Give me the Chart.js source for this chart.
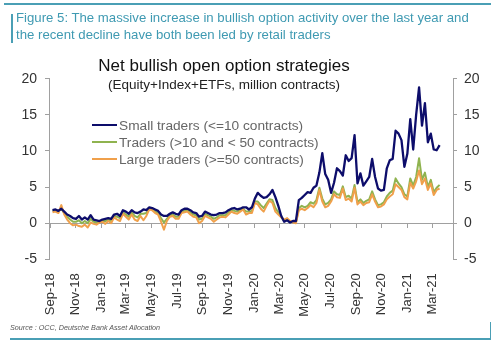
<!DOCTYPE html>
<html>
<head>
<meta charset="utf-8">
<script src="https://cdn.jsdelivr.net/npm/chart.js@4"></script>
<style>
  html, body { margin: 0; padding: 0; background: #fff; }
  #wrap { position: relative; width: 500px; height: 346px; overflow: hidden; font-family: "Liberation Sans", Arial, sans-serif; }
  #wrap canvas { position: absolute; left: 0; top: 0; }
  .txt { position: absolute; white-space: nowrap; }
  .rule { position: absolute; background: #4a9fb5; }
  #figTitle { left: 16px; top: 10px; font-size: 13.2px; line-height: 16.5px; color: #3f9ab2; }
  #title { left: 0; width: 448px; top: 56px; text-align: center; font-size: 17px; color: #111; }
  #subtitle { left: 0; width: 448px; top: 77px; text-align: center; font-size: 13.5px; color: #222; }
  .leg { left: 92px; font-size: 13.7px; color: #666; line-height: 16px; }
  .leg i { display: inline-block; width: 25px; height: 2px; vertical-align: middle; margin-right: 2px; position: relative; top: -1px; }
  #source { left: 10px; top: 323px; font-size: 7.2px; font-style: italic; color: #555; }
</style>
</head>
<body>
<div id="wrap">
  <canvas id="chart" width="500" height="346"></canvas>

  <div class="rule" style="left:4px; top:3px; width:487px; height:1.5px;"></div>
  <div class="rule" style="left:11px; top:14px; width:1.5px; height:29px;"></div>
  <div class="txt" id="figTitle">Figure 5: The massive increase in bullish option activity over the last year and<br>the recent decline have both been led by retail traders</div>

  <div class="txt" id="title">Net bullish open option strategies</div>
  <div class="txt" id="subtitle">(Equity+Index+ETFs, million contracts)</div>

  <div class="txt leg" style="top:118px;"><i style="background:#0d0d6b"></i>Small traders (&lt;=10 contracts)</div>
  <div class="txt leg" style="top:135px;"><i style="background:#8fb34f"></i>Traders (&gt;10 and &lt; 50 contracts)</div>
  <div class="txt leg" style="top:152px;"><i style="background:#f0a04b"></i>Large traders (&gt;=50 contracts)</div>

  <div class="txt" id="source">Source : OCC, Deutsche Bank Asset Allocation</div>
  <div class="rule" style="left:10px; top:338px; width:481px; height:1.5px;"></div>
  <div class="rule" style="left:489.5px; top:322px; width:1.5px; height:17px;"></div>
</div>

<script>
/* ── Data: weekly readings, first week ending 2018-09-07 ──────── */
const firstWeek = Date.UTC(2018, 8, 7);
const axisStart = Date.UTC(2018, 8, 1);

const smallTraders = [
  1.8, 1.9, 1.7, 2.0, 1.6, 1.2, 1.0, 0.7, 0.6, 1.0,
  0.5, 0.8, 0.5, 1.1, 0.5, 0.4, 0.3, 0.5, 0.6, 0.7,
  0.6, 1.2, 1.3, 1.0, 1.8, 1.6, 1.3, 1.8, 1.5, 1.4,
  1.6, 1.9, 1.8, 2.2, 2.1, 1.9, 1.7, 1.2, 1.0, 1.0,
  1.3, 1.5, 1.3, 1.2, 1.8, 2.0, 2.0, 1.8, 1.5, 1.4,
  0.9, 1.0, 1.6, 1.4, 1.2, 1.1, 1.2, 1.4, 1.4, 1.5,
  1.8, 2.0, 2.1, 1.9, 2.0, 2.2, 2.2, 1.9, 2.2, 3.4,
  4.2, 3.8, 3.5, 3.6, 4.0, 4.6, 3.6, 2.4, 1.0, 0.2,
  0.4, 0.1, 0.3, 0.3, 3.2, 3.5, 3.9, 4.3, 4.2, 4.9,
  5.2, 7.0, 9.7, 6.8, 6.0, 4.2, 5.6, 7.6, 7.2, 6.6,
  9.4, 8.6, 9.0, 12.2, 5.5, 6.9, 5.2, 5.8, 6.4, 8.9,
  6.4, 4.8, 4.5, 4.6, 7.6, 8.7, 8.9, 12.8, 12.4, 11.5,
  7.8, 9.6, 14.4, 10.2, 15.0, 18.8, 13.5, 16.6, 11.2, 12.4,
  10.2, 10.1, 10.8
];

const midTraders = [
  1.7, 1.8, 1.6, 2.0, 1.4, 0.9, 0.5, 0.2, 0.2, 0.4,
  0.0, 0.3, 0.0, 0.6, 0.2, 0.1, 0.1, 0.3, 0.3, 0.5,
  0.3, 1.0, 0.9, 0.7, 1.5, 1.2, 0.9, 1.5, 1.0, 0.8,
  1.3, 1.3, 1.4, 2.0, 1.9, 1.6, 1.4, 0.7, 0.1, 0.6,
  1.1, 1.2, 0.9, 0.9, 1.6, 1.7, 1.8, 1.5, 1.2, 1.1,
  0.5, 0.6, 1.3, 1.1, 0.9, 0.6, 0.8, 1.1, 1.1, 1.1,
  1.5, 1.8, 1.7, 1.6, 1.8, 2.0, 1.6, 1.6, 1.7, 3.0,
  3.0, 2.5, 2.1, 2.7, 3.3, 3.2, 2.1, 1.5, 0.9, 0.3,
  0.6, 0.2, 0.2, 0.1, 2.1, 2.4, 2.2, 2.4, 2.9, 2.7,
  3.2, 4.9, 3.4, 2.6, 2.8, 3.3, 4.4, 4.0, 3.9, 5.1,
  3.6, 3.8, 3.4, 5.3, 2.9, 3.3, 2.8, 3.1, 3.3, 4.4,
  3.3, 2.5, 2.6, 2.9, 3.7, 4.2, 4.5, 6.2, 5.5, 5.0,
  4.0, 3.7, 6.2, 5.2, 6.4, 9.0, 6.0, 7.0, 5.0, 6.0,
  4.3, 4.9, 5.3
];

const largeTraders = [
  1.5, 1.6, 1.4, 2.5, 1.2, 0.5, 0.0, -0.3, -0.2, -0.4,
  -0.5, -0.2, -0.6, 0.1, -0.1, -0.2, 0.1, 0.2, -0.1, 0.3,
  0.0, 0.8, 0.5, 0.3, 1.3, 0.9, 0.5, 1.2, 0.5, 0.3,
  1.0, 0.4, 1.0, 1.9, 1.8, 1.4, 1.2, 0.2, -0.9, 0.3,
  0.9, 1.0, 0.6, 0.6, 1.4, 1.5, 1.6, 1.2, 0.9, 0.8,
  0.0, 0.3, 1.0, 0.8, 0.6, 0.2, 0.5, 0.8, 0.9, 0.8,
  1.2, 1.6, 1.4, 1.3, 1.6, 1.9, 1.2, 1.4, 1.4, 2.8,
  2.6, 2.0, 1.6, 2.4, 3.1, 2.8, 1.6, 1.2, 0.8, 0.5,
  0.7, 0.3, 0.1, 0.0, 1.8, 2.0, 1.8, 2.1, 2.5, 2.2,
  2.8, 4.6, 3.0, 2.2, 2.4, 3.0, 4.0, 3.6, 3.5, 4.8,
  3.2, 3.4, 3.0, 4.9, 2.6, 3.0, 2.5, 2.8, 2.9, 4.0,
  3.0, 2.2, 2.3, 2.6, 3.3, 3.7, 4.0, 5.4, 5.0, 4.6,
  3.6, 3.3, 5.6, 4.8, 5.8, 7.3, 5.4, 6.2, 4.6, 5.5,
  3.9, 4.6, 4.8
];

/* ── Axis ticks: every second month ───────────────────────────── */
const tickLabels = ['Sep-18', 'Nov-18', 'Jan-19', 'Mar-19', 'May-19', 'Jul-19', 'Sep-19', 'Nov-19',
                    'Jan-20', 'Mar-20', 'May-20', 'Jul-20', 'Sep-20', 'Nov-20', 'Jan-21', 'Mar-21'];
const tickDates  = ['2018-09-01', '2018-11-01', '2019-01-01', '2019-03-01', '2019-05-01', '2019-07-01',
                    '2019-09-01', '2019-11-01', '2020-01-01', '2020-03-01', '2020-05-01', '2020-07-01',
                    '2020-09-01', '2020-11-01', '2021-01-01', '2021-03-01'];
const yTicks = [-5, 0, 5, 10, 15, 20];

const DAY = 86400000;
const tickDays = tickDates.map(d => (Date.parse(d) - axisStart) / DAY);
const weekDay  = i => (firstWeek - axisStart) / DAY + 7 * i;
const toPoints = arr => arr.map((v, i) => ({ x: weekDay(i), y: v }));

const X_MIN = -2.4, X_MAX = 962;
const AXIS_COL = '#a0a0a0';
const TICK_FONT = { family: 'Liberation Sans', size: 14 };

const setXTicks = s => { s.ticks = tickDays.map(v => ({ value: v })); };
const setYTicks = s => { s.ticks = yTicks.map(v => ({ value: v })); };

const line = (label, data, color, width, order) => ({
  label, data: toPoints(data),
  borderColor: color, backgroundColor: color,
  borderWidth: width, pointRadius: 0, tension: 0,
  borderJoinStyle: 'round', order,
  xAxisID: 'x', yAxisID: 'y',
});

new Chart(document.getElementById('chart'), {
  type: 'line',
  data: {
    datasets: [
      line('Small traders (<=10 contracts)', smallTraders, '#0d0d6b', 2.3, 0),
      line('Traders (>10 and < 50 contracts)', midTraders, '#8fb34f', 2, 2),
      line('Large traders (>=50 contracts)', largeTraders, '#f0a04b', 2, 1),
    ],
  },
  options: {
    responsive: false,
    animation: false,
    layout: { padding: { top: 78.7, left: 0, right: 0, bottom: 0 } },
    plugins: { legend: { display: false }, tooltip: { enabled: false } },
    scales: {
      x: {
        type: 'linear', position: 'bottom', min: X_MIN, max: X_MAX,
        afterBuildTicks: setXTicks,
        afterFit: s => { s.height = 346 - 259.3; },
        grid: { display: false }, border: { display: false },
        ticks: {
          autoSkip: false, minRotation: 90, maxRotation: 90, padding: 6,
          color: '#333', font: { family: 'Liberation Sans', size: 13 },
          callback: (v, i) => tickLabels[i],
        },
      },
      xZero: {
        type: 'linear', position: { y: 0 }, min: X_MIN, max: X_MAX,
        afterBuildTicks: setXTicks,
        grid: { display: true, drawOnChartArea: false, drawTicks: true, tickLength: 4, color: AXIS_COL },
        border: { display: true, color: AXIS_COL, width: 1 },
        ticks: { display: false },
      },
      y: {
        position: 'left', min: -5, max: 20,
        afterBuildTicks: setYTicks,
        afterFit: s => { s.width = 49; },
        grid: { drawOnChartArea: false, tickLength: 4, color: AXIS_COL },
        border: { color: AXIS_COL },
        ticks: { color: '#333', font: TICK_FONT, padding: 8 },
      },
      y2: {
        position: 'right', min: -5, max: 20,
        afterBuildTicks: setYTicks,
        afterFit: s => { s.width = 47; },
        grid: { drawOnChartArea: false, tickLength: 4, color: AXIS_COL },
        border: { color: AXIS_COL },
        ticks: { color: '#333', font: TICK_FONT, padding: 7 },
      },
    },
  },
});
</script>
</body>
</html>
